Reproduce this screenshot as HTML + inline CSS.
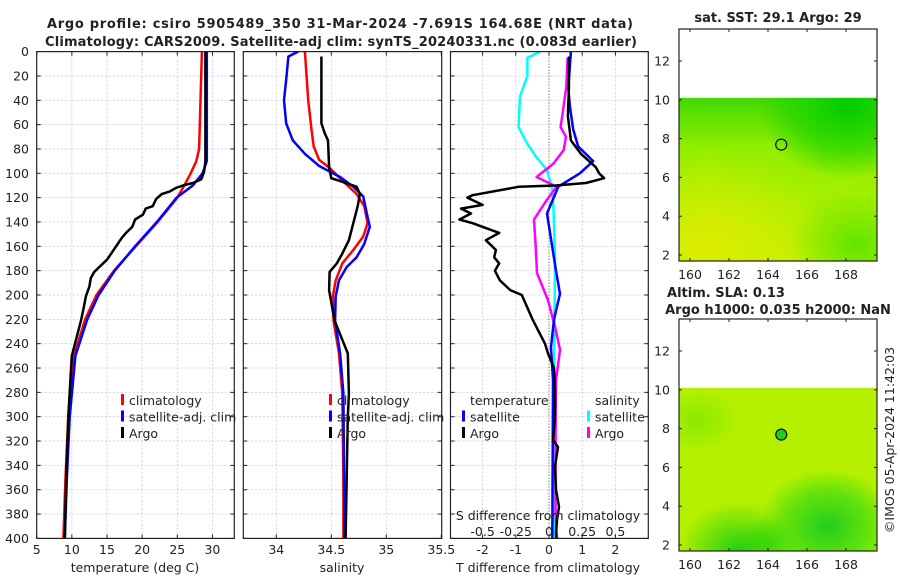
<!DOCTYPE html>
<html><head><meta charset="utf-8"><style>
html,body{margin:0;padding:0;background:#fff;}
svg{display:block;font-family:"DejaVu Sans","Liberation Sans",sans-serif;}
</style></head><body>
<svg id="fig" width="900" height="580" viewBox="0 0 900 580">
<defs>
<clipPath id="c1"><rect x="36.7" y="51.6" width="197.6" height="487.2"/></clipPath>
<clipPath id="c2"><rect x="243.3" y="51.6" width="198.4" height="487.2"/></clipPath>
<clipPath id="c3"><rect x="450.5" y="51.6" width="197.8" height="487.2"/></clipPath>
<radialGradient id="m1a" cx="0.15" cy="0.9" r="0.6"><stop offset="0" stop-color="#dcec00"/><stop offset="1" stop-color="#dcec00" stop-opacity="0"/></radialGradient>
<radialGradient id="m1b" cx="0.85" cy="0.05" r="0.45"><stop offset="0" stop-color="#00cc00"/><stop offset="0.6" stop-color="#20d400" stop-opacity="0.7"/><stop offset="1" stop-color="#20d400" stop-opacity="0"/></radialGradient>
<linearGradient id="m1c" x1="0" y1="0" x2="0" y2="1"><stop offset="0" stop-color="#40d800"/><stop offset="0.3" stop-color="#90ee00"/><stop offset="1" stop-color="#c4f000"/></linearGradient>
<radialGradient id="m1d" cx="0.9" cy="0.9" r="0.35"><stop offset="0" stop-color="#60e400"/><stop offset="1" stop-color="#60e400" stop-opacity="0"/></radialGradient>
<radialGradient id="m2a" cx="0.3" cy="1" r="0.3"><stop offset="0" stop-color="#20d010"/><stop offset="1" stop-color="#20d010" stop-opacity="0"/></radialGradient>
<radialGradient id="m2b" cx="0.75" cy="0.85" r="0.35"><stop offset="0" stop-color="#20cc20"/><stop offset="0.6" stop-color="#40dc10" stop-opacity="0.7"/><stop offset="1" stop-color="#40dc10" stop-opacity="0"/></radialGradient>
<radialGradient id="m2c" cx="0.1" cy="0.2" r="0.2"><stop offset="0" stop-color="#70e400" stop-opacity="0.6"/><stop offset="1" stop-color="#70e400" stop-opacity="0"/></radialGradient>
<radialGradient id="m2d" cx="0.45" cy="0.95" r="0.15"><stop offset="0" stop-color="#30d400" stop-opacity="0.8"/><stop offset="1" stop-color="#30d400" stop-opacity="0"/></radialGradient>
</defs>
<g id="layer"></g>
</svg>
<script>
// ---- Panel 1: temperature ----
const climDepth=[0,20,40,60,80,90,100,110,120,130,140,160,180,200,220,250,300,350,400];
const climT=[28.5,28.4,28.3,28.2,28.1,27.7,26.9,26.0,25.0,23.6,22.2,19.1,16.0,13.5,11.9,10.3,9.5,9.1,8.8];
const satT=[29.2,29.2,29.2,29.2,29.2,29.2,28.6,27.2,24.9,23.5,22.1,19.0,16.1,13.8,12.2,10.5,9.7,9.3,9.0];
const argoTDepth=[0,90,99,105,108,110,112,115,117,121,127,129,134,138,144,149,153,160,166,171,177,181,186,193,201,210,221,250,300,350,400];
const argoT=[29.0,29.0,28.8,28.4,27.2,25.8,24.8,23.9,22.8,22.0,21.5,20.5,20.1,19.0,18.6,17.7,17.1,16.3,15.6,15.0,13.9,13.2,12.7,12.5,12.0,11.7,11.3,10.0,9.5,9.2,9.0];
// ---- Panel 2: salinity ----
const climSDepth=[0,40,64,78,89,96,106,117,127,141,152,163,174,188,201,221,248,281,350,400];
const climS=[34.26,34.29,34.32,34.34,34.39,34.49,34.60,34.73,34.80,34.83,34.79,34.70,34.60,34.54,34.515,34.52,34.57,34.60,34.61,34.61];
const satSDepth=[0,4,23,40,59,73,84,94,103,111,119,136,144,158,169,177,188,201,221,248,281,400];
const satS=[34.20,34.11,34.09,34.07,34.09,34.15,34.26,34.39,34.58,34.70,34.79,34.83,34.85,34.80,34.73,34.64,34.57,34.54,34.535,34.58,34.61,34.62];
const argoSDepth=[4,59,67,73,95,104,107,111,117,127,141,155,166,174,181,196,221,248,281,300,350,400];
const argoS=[34.41,34.41,34.44,34.47,34.48,34.50,34.60,34.73,34.76,34.74,34.70,34.66,34.60,34.55,34.485,34.48,34.53,34.65,34.66,34.65,34.64,34.63];
// ---- Panel 3: differences ----
const satTdDepth=[0,30,45,64,78,90,100,111,133,180,199,220,243,270,400];
const satTd=[0.66,0.58,0.63,0.73,0.88,1.33,0.93,0.28,-0.06,0.21,0.33,0.15,0.06,0.12,0.1];
const argoTdDepth=[4,30,53,73,84,95,100,104,108,110,111,118,120,126,129,133,138,141,149,155,163,169,174,180,188,196,200,221,240,248,260,278,302,319,325,341,360,374,385,395,400];
const argoTd=[0.6,0.6,0.57,0.66,0.96,1.41,1.51,1.66,1.11,0.2,-0.9,-2.3,-2.46,-2.0,-2.65,-2.35,-2.7,-2.3,-1.5,-1.9,-1.6,-1.65,-1.5,-1.63,-1.48,-1.17,-0.82,-0.48,-0.12,-0.03,0.15,0.18,0.18,0.12,0.27,0.18,0.21,0.3,0.24,0.21,0.22];
const satSdDepth=[0,5,20,37,62,75,87,97,111,127,168,250,400];
const satSd=[-0.068,-0.163,-0.163,-0.218,-0.23,-0.167,-0.093,-0.017,0.02,0.033,0.045,0.04,0.04];
const argoSdDepth=[5,29,45,62,70,81,92,103,111,122,138,160,182,204,226,245,270,300,340,380,400];
const argoSd=[0.14,0.13,0.11,0.087,0.128,0.11,0.033,-0.093,0.057,-0.017,-0.113,-0.1,-0.09,-0.008,0.045,0.083,0.053,0.05,0.05,0.05,0.06];
const depthTicks=[0,20,40,60,80,100,120,140,160,180,200,220,240,260,280,300,320,340,360,380,400];
const tTicks=[5,10,15,20,25,30];
const sTicks=[34,34.5,35,35.5];
const tdTicks=[-2,-1,0,1,2];
const sdTicks=[-0.5,-0.25,0,0.25,0.5];
const sdTickLabels=["-0.5","-0.25","0","0.25","0.5"];
const mapLat=[2,4,6,8,10,12];
const mapLon=[160,162,164,166,168];

const NS="http://www.w3.org/2000/svg";
const L=document.getElementById('layer');
function mk(tag,attrs,parent){const e=document.createElementNS(NS,tag);for(const k in attrs)e.setAttribute(k,attrs[k]);(parent||L).appendChild(e);return e;}
function txt(x,y,s,size,anchor,weight,parent){const t=mk('text',{x:x,y:y,'font-size':size,'text-anchor':anchor||'middle','font-weight':weight||'normal',fill:'#222'},parent);t.textContent=s;return t;}

const yD=d=>51.6+d*1.217;
const xT=t=>36.7+(t-5)*7.03;
const xS=s=>243.3+(s-33.7)*110;
const xTd=v=>549+v*33.2;
const xSd=v=>549+v*132.8;
const panels=[{x0:36.7,x1:234.3},{x0:243.3,x1:441.7},{x0:450.5,x1:648.3}];
const Y0=51.6,Y1=538.4;

panels.forEach((p,i)=>{
  const g=mk('g',{});
  
  
  depthTicks.forEach(d=>{ if(d>0&&d<400) mk('line',{x1:p.x0,x2:p.x1,y1:yD(d),y2:yD(d),stroke:'#c4c8e8','stroke-width':0.8,'stroke-dasharray':'2,2'},g);});
  let xs=[];
  if(i===0) xs=tTicks.slice(1).map(xT);
  if(i===1) xs=sTicks.slice(0,3).map(xS);
  if(i===2) xs=[-2,-1,1,2].map(xTd);
  xs.forEach(x=>mk('line',{x1:x,x2:x,y1:Y0,y2:Y1,stroke:'#c4c8e8','stroke-width':0.8,'stroke-dasharray':'2,2'},g));
});
const zl=mk('line',{x1:xTd(0),x2:xTd(0),y1:Y0,y2:Y1,stroke:'#2a4a2a','stroke-width':1,'stroke-dasharray':'1,2'});



function series(xs,ds,fx,color,w,clip,name){
  const pts=xs.map((v,i)=>fx(v).toFixed(1)+','+yD(ds[i]).toFixed(1)).join(' ');
  const pl=mk('polyline',{points:pts,fill:'none',stroke:color,'stroke-width':w,'stroke-linejoin':'round','clip-path':'url(#'+clip+')'});
  
  
}
series(climT,climDepth,xT,'#ff0000',2.5,'c1','temp-climatology-line');
series(satT,climDepth,xT,'#0000ff',2.5,'c1','temp-satellite-line');
series(argoT,argoTDepth,xT,'#000',2.5,'c1','temp-argo-line');
series(climS,climSDepth,xS,'#ff0000',2.5,'c2','sal-climatology-line');
series(satS,satSDepth,xS,'#0000ff',2.5,'c2','sal-satellite-line');
series(argoS,argoSDepth,xS,'#000',2.5,'c2','sal-argo-line');
series(satSd,satSdDepth,xSd,'#00ffff',2.5,'c3','sdiff-satellite-line');
series(argoSd,argoSdDepth,xSd,'#ff00ff',2.5,'c3','sdiff-argo-line');
series(satTd,satTdDepth,xTd,'#0000ff',2.5,'c3','tdiff-satellite-line');
series(argoTd,argoTdDepth,xTd,'#000',2.5,'c3','tdiff-argo-line');

panels.forEach((p,i)=>{
  const f=mk('rect',{x:p.x0,y:Y0,width:p.x1-p.x0,height:Y1-Y0,fill:'none',stroke:'#222','stroke-width':1.2});
  
  
  depthTicks.forEach(d=>{mk('line',{x1:p.x0,x2:p.x0+4,y1:yD(d),y2:yD(d),stroke:'#222'});mk('line',{x1:p.x1-4,x2:p.x1,y1:yD(d),y2:yD(d),stroke:'#222'});});
});
const yl=mk('g',{});


depthTicks.forEach(d=>txt(29,yD(d)+4.5,String(d),12.5,'end','normal',yl));
const xl1=mk('g',{});


tTicks.forEach(t=>{const x=xT(t);mk('line',{x1:x,x2:x,y1:Y1-4,y2:Y1,stroke:'#222'},xl1);mk('line',{x1:x,x2:x,y1:Y0,y2:Y0+4,stroke:'#222'},xl1);txt(x,554,String(t),12.5,'middle','normal',xl1);});
txt(135,572,'temperature (deg C)',12.5,'middle','normal',xl1);
const xl2=mk('g',{});


sTicks.forEach(s=>{const x=xS(s);mk('line',{x1:x,x2:x,y1:Y1-4,y2:Y1,stroke:'#222'},xl2);mk('line',{x1:x,x2:x,y1:Y0,y2:Y0+4,stroke:'#222'},xl2);txt(x,554,String(s),12.5,'middle','normal',xl2);});
txt(342,572,'salinity',12.5,'middle','normal',xl2);
const xl3=mk('g',{});


tdTicks.forEach(t=>{const x=xTd(t);mk('line',{x1:x,x2:x,y1:Y1-4,y2:Y1,stroke:'#222'},xl3);mk('line',{x1:x,x2:x,y1:Y0,y2:Y0+4,stroke:'#222'},xl3);txt(x,554,String(t),12.5,'middle','normal',xl3);});
txt(548,572,'T difference from climatology',12.5,'middle','normal',xl3);
const xl4=mk('g',{});


txt(548,520,'S difference from climatology',12.5,'middle','normal',xl4);
sdTicks.forEach((s,i)=>txt(xSd(s),536,sdTickLabels[i],12.5,'middle','normal',xl4));

function legend(x,y,items,name){
  const g=mk('g',{});
  
  
  items.forEach((it,i)=>{const yy=y+i*16.5; if(it[0]) mk('rect',{x:x,y:yy-11,width:3,height:11,fill:it[0]},g); txt(x+8,yy,it[1],12.5,'start','normal',g);});
}
legend(121,405,[['#ff0000','climatology'],['#0000ff','satellite-adj. clim'],['#000','Argo']],'temperature-legend');
legend(329,405,[['#ff0000','climatology'],['#0000ff','satellite-adj. clim'],['#000','Argo']],'salinity-legend');
legend(462,405,[[null,'temperature'],['#0000ff','satellite'],['#000','Argo']],'tdiff-legend');
legend(587,405,[[null,'salinity'],['#00ffff','satellite'],['#ff00ff','Argo']],'sdiff-legend');

const t1=txt(340,28,'Argo profile: csiro 5905489_350 31-Mar-2024 -7.691S 164.68E (NRT data)',13,'middle','bold');
t1.setAttribute('textLength','586');


const t2=txt(341,46,'Climatology: CARS2009. Satellite-adj clim: synTS_20240331.nc (0.083d earlier)',13,'middle','bold');
t2.setAttribute('textLength','592');



function map(top,kind,name){
  const g=mk('g',{});
  
  
  const x0=679,x1=877,y1=top+232;
  const latY=l=>top+32+(12-l)*19.4;
  const lonX=l=>690+(l-160)*19.5;
  const gy=latY(10.1);
  if(kind===1){
    mk('rect',{x:x0,y:gy,width:x1-x0,height:y1-gy,fill:'url(#m1c)'},g);
    mk('rect',{x:x0,y:gy,width:x1-x0,height:y1-gy,fill:'url(#m1a)'},g);
    mk('rect',{x:x0,y:gy,width:x1-x0,height:y1-gy,fill:'url(#m1d)'},g);
    mk('rect',{x:x0,y:gy,width:x1-x0,height:y1-gy,fill:'url(#m1b)'},g);
  } else {
    mk('rect',{x:x0,y:gy,width:x1-x0,height:y1-gy,fill:'#b4f000'},g);
    mk('rect',{x:x0,y:gy,width:x1-x0,height:y1-gy,fill:'url(#m2c)'},g);
    mk('rect',{x:x0,y:gy,width:x1-x0,height:y1-gy,fill:'url(#m2d)'},g);
    mk('rect',{x:x0,y:gy,width:x1-x0,height:y1-gy,fill:'url(#m2a)'},g);
    mk('rect',{x:x0,y:gy,width:x1-x0,height:y1-gy,fill:'url(#m2b)'},g);
  }
  mk('rect',{x:x0,y:top,width:x1-x0,height:232,fill:'none',stroke:'#222','stroke-width':1.2},g);
  mapLat.forEach(l=>{const y=latY(l);mk('line',{x1:x0,x2:x0+3,y1:y,y2:y,stroke:'#222'},g);mk('line',{x1:x1-3,x2:x1,y1:y,y2:y,stroke:'#222'},g);txt(670,y+4.5,String(l),12.5,'end','normal',g);});
  mapLon.forEach(l=>{const x=lonX(l);mk('line',{x1:x,x2:x,y1:y1-3,y2:y1,stroke:'#222'},g);mk('line',{x1:x,x2:x,y1:top,y2:top+3,stroke:'#222'},g);txt(x,y1+18,String(l),12.5,'middle','normal',g);});
  const c=mk('circle',{cx:lonX(164.68),cy:latY(7.69),r:5.5,fill:kind===2?'#20cc20':'none',stroke:'#111','stroke-width':1.2},g);
  
  
}
map(29,1,'sst-map');
map(319,2,'sla-map');
const m1=txt(778,22,'sat. SST: 29.1 Argo: 29',13,'middle','bold');


const m2=txt(726,297,'Altim. SLA: 0.13',13,'middle','bold');


const m3=txt(778,314,'Argo h1000: 0.035 h2000: NaN',13,'middle','bold');


const cr=txt(0,0,'©IMOS 05-Apr-2024 11:42:03',12.5,'middle','normal');
cr.setAttribute('transform','translate(894,440) rotate(-90)');


</script>
</body></html>
